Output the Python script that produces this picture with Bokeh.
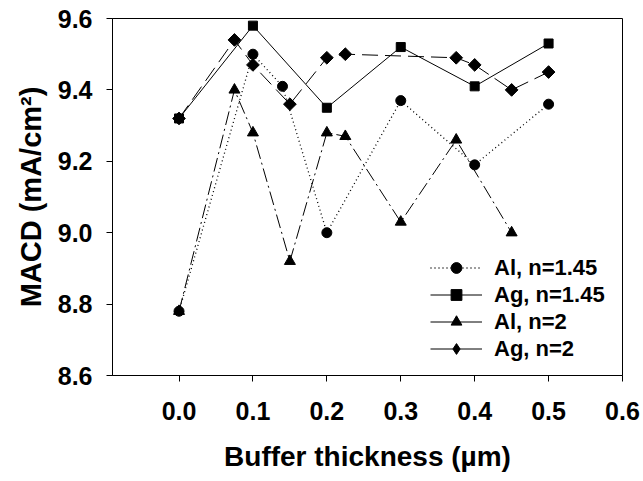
import math
from bokeh.plotting import figure
from bokeh.models import Range1d, FixedTicker, PrintfTickFormatter, Legend, LegendItem
from bokeh.embed import file_html
from bokeh.resources import INLINE

# ---- data ----
al145_x = [0.0, 0.1, 0.14, 0.2, 0.3, 0.4, 0.5]
al145_y = [8.78, 9.50, 9.41, 9.00, 9.37, 9.19, 9.36]

ag145_x = [0.0, 0.1, 0.2, 0.3, 0.4, 0.5]
ag145_y = [9.32, 9.58, 9.35, 9.52, 9.41, 9.53]

al2_x = [0.0, 0.075, 0.1, 0.15, 0.2, 0.225, 0.3, 0.375, 0.45]
al2_y = [8.78, 9.40, 9.28, 8.92, 9.28, 9.27, 9.03, 9.26, 9.00]

ag2_x = [0.0, 0.075, 0.1, 0.15, 0.2, 0.225, 0.375, 0.4, 0.45, 0.5]
ag2_y = [9.32, 9.54, 9.47, 9.36, 9.49, 9.50, 9.49, 9.47, 9.40, 9.45]

labels = ["Al, n=1.45", "Ag, n=1.45", "Al, n=2", "Ag, n=2"]
x_ticks = [0.0, 0.1, 0.2, 0.3, 0.4, 0.5, 0.6]
y_ticks = [8.6, 8.8, 9.0, 9.2, 9.4, 9.6]

FONT = "Liberation Sans"

p = figure(width=643, height=481, output_backend="svg", toolbar_location=None,
           x_range=Range1d(-0.09, 0.6), y_range=Range1d(8.6, 9.6),
           min_border_left=112, min_border_right=21, min_border_top=18,
           min_border_bottom=106)
p.background_fill_color = "white"
p.border_fill_color = "white"
p.outline_line_color = "black"
p.outline_line_width = 1
p.xgrid.visible = False
p.ygrid.visible = False

for ax, ticks in ((p.xaxis[0], x_ticks), (p.yaxis[0], y_ticks)):
    ax.ticker = FixedTicker(ticks=ticks)
    ax.formatter = PrintfTickFormatter(format="%.1f")
    ax.major_tick_in = 0
    ax.major_tick_out = 6
    ax.minor_tick_in = 0
    ax.minor_tick_out = 0
    ax.axis_line_color = "black"
    ax.major_tick_line_color = "black"
    ax.major_label_text_font = FONT
    ax.major_label_text_font_style = "bold"
    ax.major_label_text_font_size = "25px"
    ax.major_label_text_color = "black"
    ax.axis_label_text_font = FONT
    ax.axis_label_text_font_style = "bold"
    ax.axis_label_text_color = "black"

p.xaxis.major_label_standoff = 20
p.yaxis.major_label_standoff = 14
p.xaxis.axis_label = "Buffer thickness (\u00b5m)"
p.yaxis.axis_label = "MACD (mA/cm\u00b2)"
p.xaxis.axis_label_text_font_size = "28px"
p.yaxis.axis_label_text_font_size = "29px"
p.xaxis.axis_label_standoff = 18
p.yaxis.axis_label_standoff = 8

l1 = p.line(al145_x, al145_y, line_color="black", line_width=1.3, line_dash="1 3")
m1 = p.scatter(al145_x, al145_y, marker="circle", size=10, fill_color="black", line_color="black")

l2 = p.line(ag145_x, ag145_y, line_color="black", line_width=1)
m2 = p.scatter(ag145_x, ag145_y, marker="square", size=9, fill_color="black", line_color="black")

l3 = p.line(al2_x, al2_y, line_color="black", line_width=1, line_dash="14 4 2 4")
m3 = p.scatter(al2_x, al2_y, marker="triangle", size=11, fill_color="black", line_color="black")

l4 = p.line(ag2_x, ag2_y, line_color="black", line_width=1, line_dash="16 7")
m4 = p.scatter(ag2_x, ag2_y, marker="square", size=9, angle=math.pi / 4,
               fill_color="black", line_color="black")

# legend-only proxies (hidden in the plot): solid key lines and a diamond key
l3k = p.line(al2_x, al2_y, line_color="black", line_width=1, visible=False)
l4k = p.line(ag2_x, ag2_y, line_color="black", line_width=1, visible=False)
m4k = p.scatter(ag2_x, ag2_y, marker="diamond", size=14, fill_color="black",
                line_color="black", visible=False)

legend = Legend(items=[
    LegendItem(label=labels[0], renderers=[l1, m1]),
    LegendItem(label=labels[1], renderers=[l2, m2]),
    LegendItem(label=labels[2], renderers=[l3k, m3]),
    LegendItem(label=labels[3], renderers=[l4k, m4k]),
], location=(318, 13))
legend.border_line_color = None
legend.background_fill_alpha = 0
legend.padding = 0
legend.margin = 0
legend.spacing = 0
legend.glyph_width = 52
legend.glyph_height = 27
legend.label_height = 27
legend.label_standoff = 12
legend.label_text_font = FONT
legend.label_text_font_style = "bold"
legend.label_text_font_size = "22px"
legend.label_text_color = "black"
p.add_layout(legend, "center")

open("out.html", "w").write(file_html(p, INLINE))
